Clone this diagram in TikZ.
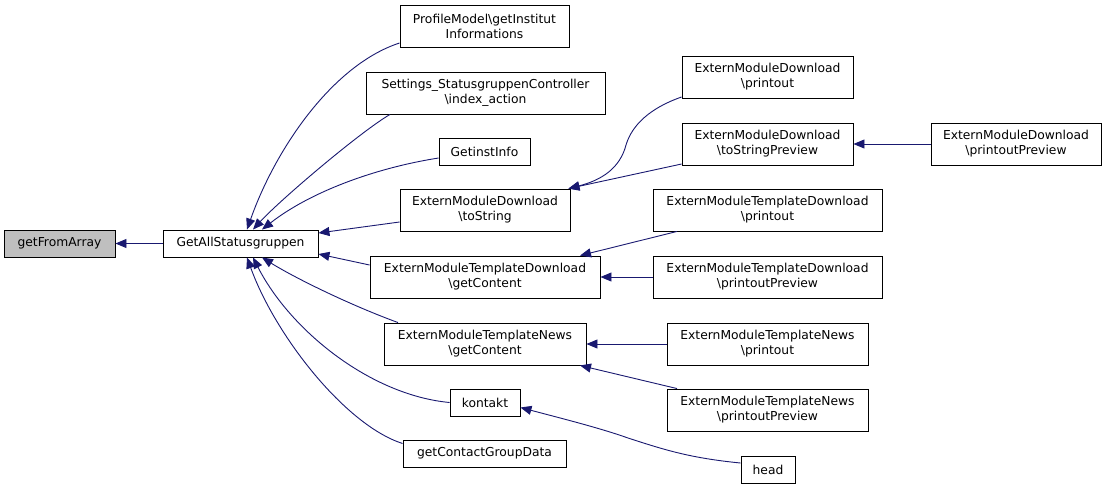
\documentclass[tikz,border=0pt]{standalone}
\usepackage{fontspec}
\setmainfont{DejaVu Sans}
\usetikzlibrary{arrows.meta}
\definecolor{edgeblue}{HTML}{191970}
\definecolor{nodegray}{HTML}{BFBFBF}
\tikzset{
  box/.style={draw=black, line width=0.9pt, inner sep=0pt, align=center,
    font=\fontsize{12.3}{15}\selectfont, fill=white},
  call/.style={draw=edgeblue, line width=0.9pt, -{Triangle[length=11pt,width=9pt]}, fill=none},
}
\begin{document}
\begin{tikzpicture}[x=1pt,y=-1pt]
\useasboundingbox (0,0) rectangle (1107,488);
% nodes
\node[box, fill=nodegray, minimum width=111pt, minimum height=27pt] (fa) at (59.5,243.5) {getFromArray};
\node[box, minimum width=155pt, minimum height=27pt] (ga) at (240.5,243.5) {GetAllStatusgruppen};
\node[box, minimum width=169pt, minimum height=42pt] (pm) at (484.5,26) {ProfileModel\textbackslash getInstitut\\Informations};
\node[box, minimum width=239pt, minimum height=42pt] (sc) at (485.5,93) {Settings\_StatusgruppenController\\\textbackslash index\_action};
\node[box, minimum width=91pt, minimum height=27pt] (gi) at (484.5,151.5) {GetinstInfo};
\node[box, minimum width=170pt, minimum height=42pt] (ts) at (485,210) {ExternModuleDownload\\\textbackslash toString};
\node[box, minimum width=230pt, minimum height=42pt] (tdg) at (485,277) {ExternModuleTemplateDownload\\\textbackslash getContent};
\node[box, minimum width=202pt, minimum height=42pt] (tng) at (485,344) {ExternModuleTemplateNews\\\textbackslash getContent};
\node[box, minimum width=70pt, minimum height=27pt] (ko) at (485,402.5) {kontakt};
\node[box, minimum width=163pt, minimum height=27pt] (cg) at (484.5,453.5) {getContactGroupData};
\node[box, minimum width=171pt, minimum height=42pt] (dp) at (767.5,77) {ExternModuleDownload\\\textbackslash printout};
\node[box, minimum width=171pt, minimum height=42pt] (dtp) at (767.5,144) {ExternModuleDownload\\\textbackslash toStringPreview};
\node[box, minimum width=170pt, minimum height=42pt] (dpp) at (1016,144) {ExternModuleDownload\\\textbackslash printoutPreview};
\node[box, minimum width=229pt, minimum height=42pt] (tdp) at (767.5,210) {ExternModuleTemplateDownload\\\textbackslash printout};
\node[box, minimum width=229pt, minimum height=42pt] (tdpp) at (767.5,277) {ExternModuleTemplateDownload\\\textbackslash printoutPreview};
\node[box, minimum width=201pt, minimum height=42pt] (tnp) at (767.5,344) {ExternModuleTemplateNews\\\textbackslash printout};
\node[box, minimum width=201pt, minimum height=42pt] (tnpp) at (767.5,410) {ExternModuleTemplateNews\\\textbackslash printoutPreview};
\node[box, minimum width=54pt, minimum height=27pt] (hd) at (768,469.5) {head};
% edges
\draw[call] (ga.west) -- (fa.east);
\draw[call] ([yshift=-17pt]pm.west) .. controls (332,65) and (275,150) .. ([xshift=6.5pt]ga.north);
\draw[call] ([xshift=-95.5pt]sc.south) .. controls (360,132) and (280,200) .. ([xshift=12.5pt]ga.north);
\draw[call] ([yshift=-6.5pt]gi.west) .. controls (375,168) and (310,192) .. ([xshift=21.5pt]ga.north);
\draw[call] ([yshift=-12pt]ts.west) -- ([yshift=10.5pt]ga.east);
\draw[call] ([yshift=12pt]tdg.west) -- ([yshift=-10.5pt]ga.east);
\draw[call] ([xshift=-87pt]tng.north) .. controls (350,305) and (295,278) .. ([xshift=21.5pt]ga.south);
\draw[call] (ko.west) .. controls (370,395) and (290,330) .. ([xshift=12.5pt]ga.south);
\draw[call] ([yshift=10pt]cg.west) .. controls (345,425) and (275,335) .. ([xshift=6.5pt]ga.south);
\draw[call] ([yshift=-20pt]dp.west) .. controls (650,108) and (632,125) .. (626,145) .. controls (620,168) and (602,180) .. ([xshift=-2pt]ts.north east);
\draw[call] ([yshift=-20pt]dtp.west) -- ([xshift=-2pt]ts.north east);
\draw[call] (dpp.west) -- (dtp.east);
\draw[call] ([xshift=-90.5pt]tdp.south) -- ([xshift=95pt]tdg.north);
\draw[call] (tdpp.west) -- (tdg.east);
\draw[call] (tnp.west) -- (tng.east);
\draw[call] ([xshift=-90.5pt]tnpp.north) -- ([xshift=95pt]tng.south);
\draw[call] ([yshift=6.5pt]hd.west) .. controls (690,458) and (665,450) .. (628,438) .. controls (600,428) and (560,418) .. ([yshift=-5pt]ko.east);
\end{tikzpicture}
\end{document}
